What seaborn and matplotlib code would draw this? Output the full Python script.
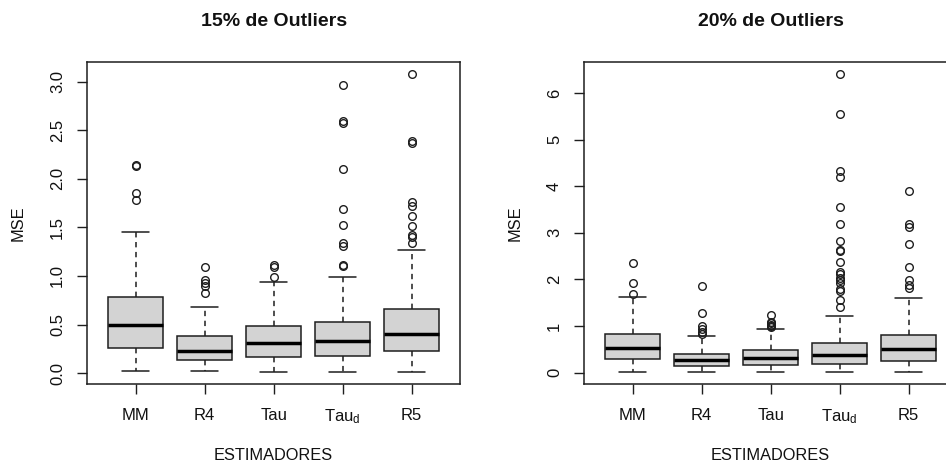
import numpy as np
import matplotlib
matplotlib.use("Agg")
import matplotlib.pyplot as plt
import seaborn as sns

# Estimators on the x axis
estimadores = ["MM", "R4", "Tau", r"Tau$_\mathregular{d}$", "R5"]

# 15% contamination: five-number summaries and flagged outliers of the MSE
p15_lo = [0.02, 0.02, 0.015, 0.01, 0.01]
p15_q1 = [0.256, 0.13, 0.163, 0.177, 0.228]
p15_med = [0.50, 0.23, 0.307, 0.325, 0.403]
p15_q3 = [0.788, 0.383, 0.483, 0.527, 0.664]
p15_hi = [1.45, 0.685, 0.94, 0.994, 1.264]
p15_out = [
    [1.78, 1.85, 2.13, 2.14],
    [0.82, 0.90, 0.93, 0.96, 1.09],
    [0.99, 1.09, 1.11],
    [1.10, 1.11, 1.31, 1.34, 1.53, 1.69, 2.10, 2.58, 2.60, 2.965],
    [1.343, 1.405, 1.42, 1.515, 1.62, 1.72, 1.76, 2.37, 2.39, 3.085],
]

# 20% contamination
p20_lo = [0.01, 0.01, 0.01, 0.01, 0.01]
p20_q1 = [0.29, 0.146, 0.168, 0.18, 0.25]
p20_med = [0.526, 0.26, 0.31, 0.368, 0.505]
p20_q3 = [0.834, 0.404, 0.475, 0.63, 0.80]
p20_hi = [1.62, 0.776, 0.935, 1.22, 1.60]
p20_out = [
    [1.68, 1.92, 2.35],
    [0.83, 0.862, 0.935, 0.99, 1.27, 1.85],
    [0.97, 1.0, 1.03, 1.06, 1.09, 1.23],
    [1.41, 1.565, 1.75, 1.79, 1.92, 1.99, 2.03, 2.12, 2.17, 2.375,
     2.60, 2.64, 2.82, 3.18, 3.56, 4.21, 4.32, 5.56, 6.42],
    [1.815, 1.89, 1.99, 2.27, 2.77, 3.13, 3.18, 3.89],
]

p15_ticks = [0.0, 0.5, 1.0, 1.5, 2.0, 2.5, 3.0]
p20_ticks = [0, 1, 2, 3, 4, 5, 6]

sns.set_style("ticks")
plt.rcParams["font.family"] = ["Liberation Sans", "DejaVu Sans"]
plt.rcParams["mathtext.fontset"] = "custom"
plt.rcParams["mathtext.rm"] = "Liberation Sans"
plt.rcParams["mathtext.it"] = "Liberation Sans"

INK = "#1e1e1e"
W, H = 946, 468

fig = plt.figure(figsize=(W / 100, H / 100), dpi=100)
fig.patch.set_facecolor("white")


def panel(rect_px, lo, q1, med, q3, hi, out, ticks, fmt, title):
    x0, y0, w, h = rect_px
    ax = fig.add_axes([x0 / W, (H - y0 - h) / H, w / W, h / H])
    stats = [
        dict(whislo=lo[i], q1=q1[i], med=med[i], q3=q3[i], whishi=hi[i],
             fliers=np.array(out[i]), label=estimadores[i])
        for i in range(len(estimadores))
    ]
    ax.bxp(
        stats, positions=np.arange(1, 6), widths=0.8, capwidths=0.4,
        patch_artist=True, showfliers=True,
        boxprops=dict(facecolor="#d3d3d3", edgecolor=INK, linewidth=1.1),
        medianprops=dict(color="black", linewidth=2.5, solid_capstyle="butt"),
        whiskerprops=dict(color=INK, linewidth=1.1, linestyle=(0, (3.5, 3))),
        capprops=dict(color=INK, linewidth=1.1),
        flierprops=dict(marker="o", markersize=5.5, markerfacecolor="none",
                        markeredgecolor=INK, markeredgewidth=1.0),
    )
    # axis range follows R's 4% extension around the data
    allv = np.concatenate([lo, hi] + [np.array(o) for o in out])
    vmin, vmax = allv.min(), allv.max()
    pad = 0.04 * (vmax - vmin)
    ax.set_ylim(vmin - pad, vmax + pad)
    ax.set_xlim(0.3, 5.7)

    ax.set_xticks(np.arange(1, 6))
    ax.set_xticklabels(estimadores, fontsize=12)
    ax.set_yticks(ticks)
    ax.set_yticklabels([fmt.format(t) for t in ticks], fontsize=12,
                       rotation=90, va="center")
    ax.tick_params(axis="both", direction="out", length=7, width=1.0,
                   color=INK, labelcolor="#111111")
    ax.tick_params(axis="x", pad=10)
    ax.tick_params(axis="y", pad=9)
    for s in ax.spines.values():
        s.set_visible(True)
        s.set_color(INK)
        s.set_linewidth(1.1)

    ax.set_xlabel("ESTIMADORES", fontsize=11.8, va="center", color="#111111")
    ax.xaxis.set_label_coords(0.5, -71 / h)
    ax.set_ylabel("MSE", fontsize=11.8, va="center", color="#111111")
    ax.yaxis.set_label_coords(-69 / w, 0.5)
    ax.text(0.5, 1 + 40 / h, title, transform=ax.transAxes, ha="center",
            va="center", fontsize=14, fontweight="bold", color="#111111")
    return ax


panel((87.3, 61.7, 372.7, 322.3), p15_lo, p15_q1, p15_med, p15_q3, p15_hi,
      p15_out, p15_ticks, "{:.1f}", "15% de Outliers")
panel((584.3, 61.7, 372.7, 322.3), p20_lo, p20_q1, p20_med, p20_q3, p20_hi,
      p20_out, p20_ticks, "{:d}", "20% de Outliers")

fig.savefig("out.png", dpi=100)
